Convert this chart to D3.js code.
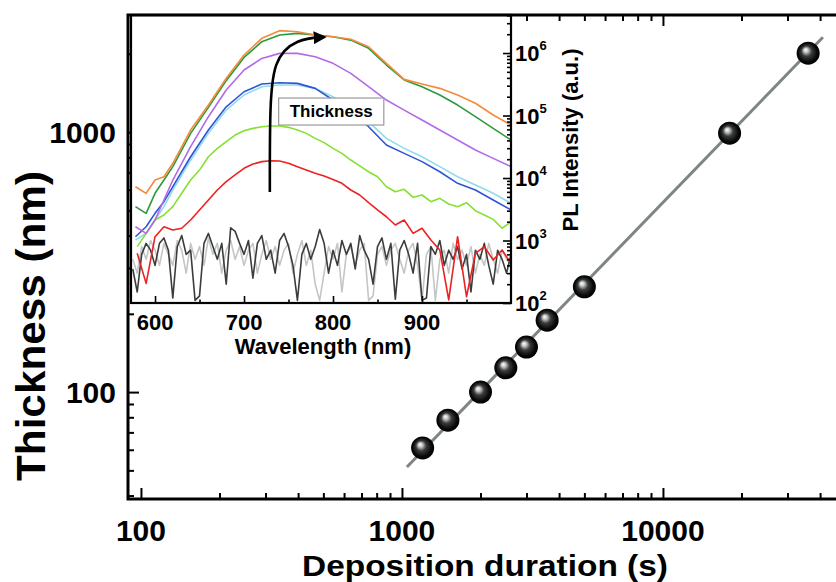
<!DOCTYPE html>
<html><head><meta charset="utf-8">
<script src="https://cdn.jsdelivr.net/npm/d3@7"></script>
<style>
html,body{margin:0;padding:0;background:#fff;}
svg{display:block;font-family:"Liberation Sans",Arial,sans-serif;font-weight:bold;}
</style></head><body>
<svg id="chart" width="836" height="582"></svg>
<script>
// ---------- main plot data ----------
const duration  = [1200, 1500, 2000, 2500, 3000, 3600, 5000, 18000, 36000];
const thickness = [61, 78, 100, 124, 149, 189, 254, 990, 2010];
const fitDuration  = [1045, 41000];
const fitThickness = [51.5, 2317];
const xTickLabels = [100, 1000, 10000];
const yTickLabels = [100, 1000];

// ---------- inset data (PL spectra) ----------
const wlCoarse = [578,590,600,610,620,640,660,680,700,720,740,760,780,800,820,840,860,880,900,920,940,960,980,1000];
const plOrange = [7260,5690,9290,10500,17200,58600,147000,394000,930000,1720000,2280000,2190000,1940000,1820000,1660000,1260000,684000,379000,319000,272000,213000,157000,102000,70500];
const plDarkGreen = [3480,2720,5690,9290,15200,51800,135000,361000,850000,1520000,1940000,2060000,1940000,1820000,1610000,1190000,643000,370000,289000,213000,147000,95800,62300,40600];
const plViolet = [1660,1300,2130,4450,9290,31700,95800,256000,535000,820000,988000,988000,870000,684000,473000,289000,177000,122000,84700,58600,40600,28100,20600,15200];
const plBlue = [1150,1660,2720,4180,7260,21900,58600,138000,240000,319000,335000,327000,272000,177000,115000,66200,33700,24800,18300,12600,8220,6430,4450,3080];
const plCyan = [1020,1300,2130,3480,6430,19400,51800,122000,213000,289000,308000,308000,272000,200000,130000,79700,43100,29800,21900,15200,10500,7730,5690,3940];

const wlFine = [580,590,600,610,620,630,640,650,660,670,680,690,700,710,720,730,740,750,760,770,780,790,800,810,820,830,840,850,860,870,880,890,900,910,920,930,940,950,960,970,980,990,1000];
const plLightGreen = [797,1300,2130,2560,3480,5690,9290,13400,21900,29800,38100,48700,57200,62300,66200,67900,67900,64700,58600,51800,43100,36800,29800,24800,19400,15600,12600,10500,7260,6040,6590,4910,5350,4180,4730,3840,3480,4030,3000,2560,2180,1570,2000];
const plRed = [623,206,1150,1660,1470,1570,2130,3080,4450,6430,8740,11200,14300,16700,18300,18900,18700,17200,15200,13400,11900,10800,9500,8220,6430,5350,4030,3080,2400,1770,2130,1300,1570,1020,705,112,1150,126,623,797,487,705,431];

const wlNoise = [575,580,585,590,595,600,605,610,615,620,625,630,635,640,645,650,655,660,665,670,675,680,685,690,695,700,705,710,715,720,725,730,735,740,745,750,755,760,765,770,775,780,785,790,795,800,805,810,815,820,825,830,835,840,845,850,855,860,865,870,875,880,885,890,895,900,905,910,915,920,925,930,935,940,945,950,955,960,965,970,975,980,985,990,995,1000];
const plNoiseDark = [350,150,600,900,700,400,900,1100,700,120,800,1200,600,700,110,130,900,1300,800,500,900,200,1600,1400,900,600,1000,250,900,1200,500,700,300,1000,1300,800,400,110,600,900,500,800,1500,900,300,700,400,1000,600,900,350,1200,700,500,200,800,1100,500,900,115,700,1000,600,300,900,110,120,800,600,1000,400,700,500,800,350,600,150,700,500,900,400,200,700,500,300,600];
const plNoiseLight = [500,300,800,500,1000,700,400,900,600,400,1000,700,300,900,500,800,400,1100,600,900,300,700,1000,500,800,400,700,900,300,600,1000,500,800,400,700,900,300,600,1000,400,700,200,110,300,800,500,900,150,600,800,400,700,900,110,130,600,800,400,700,900,500,300,700,900,400,110,600,800,110,500,700,300,900,500,700,400,800,300,600,400,900,500,300,700,500,400];

const wlTicks = [600, 700, 800, 900];
const plTicks = [1e2, 1e3, 1e4, 1e5, 1e6];
const arrowWl = [729, 729, 732, 760, 790];
const arrowPL = [6000, 1e5, 8e5, 1.7e6, 1.8e6];
const boxLabel = {text: "Thickness", wl: 798, pl: 1.18e5};

// ---------- setup ----------
const svg = d3.select('#chart');
const P = {l:128, t:15, b:499, r:836};
const x = d3.scaleLog().domain([89.2, 46030]).range([P.l, P.r]);
const y = d3.scaleLog().domain([38.8, 2820]).range([P.b, P.t]);

const defs = svg.append('defs');
const grad = defs.append('radialGradient').attr('id','ball').attr('cx','50%').attr('cy','50%').attr('r','50%').attr('fx','38%').attr('fy','34%');
[[0,'#ffffff'],[0.18,'#c8ccca'],[0.45,'#3a3c3b'],[0.8,'#0a0a0a'],[1,'#000']].forEach(s=>grad.append('stop').attr('offset',s[0]).attr('stop-color',s[1]));
defs.append('clipPath').attr('id','mainClip').append('rect').attr('x',P.l).attr('y',P.t).attr('width',P.r-P.l+20).attr('height',P.b-P.t);

// fit line
const main = svg.append('g').attr('clip-path','url(#mainClip)');
main.append('path')
  .datum(fitDuration.map((d,i)=>[d, fitThickness[i]]))
  .attr('d', d3.line().x(d=>x(d[0])).y(d=>y(d[1])))
  .attr('stroke','#7d8683').attr('stroke-width',3).attr('fill','none');
main.selectAll('circle.pt').data(duration.map((d,i)=>[d, thickness[i]])).join('circle')
  .attr('class','pt').attr('cx',d=>x(d[0])).attr('cy',d=>y(d[1])).attr('r',11.5)
  .attr('fill','url(#ball)');

// main axes ticks
const isMajor = v => Math.abs(Math.log10(v) - Math.round(Math.log10(v))) < 1e-6;
const xT = x.ticks().filter(v => v >= 100 && x(v) < P.r);
const yT = y.ticks().filter(v => v >= 40);
function tickAxis(gen, vals, size, tr){
  const g = svg.append('g').attr('transform', tr)
    .call(gen.tickValues(vals).tickSize(size).tickSizeOuter(0).tickFormat(''));
  g.select('.domain').remove();
  g.selectAll('line').attr('stroke','#000').attr('stroke-width',2);
  return g;
}
tickAxis(d3.axisBottom(x), xT.filter(v=>!isMajor(v)), -6, `translate(0,${P.b})`);
tickAxis(d3.axisBottom(x), xT.filter(isMajor), -11, `translate(0,${P.b})`);
tickAxis(d3.axisTop(x), xT.filter(v=>!isMajor(v)), -6, `translate(0,${P.t})`);
tickAxis(d3.axisTop(x), xT.filter(isMajor), -11, `translate(0,${P.t})`);
tickAxis(d3.axisLeft(y), yT.filter(v=>!isMajor(v)), -6, `translate(${P.l},0)`);
tickAxis(d3.axisLeft(y), yT.filter(isMajor), -11, `translate(${P.l},0)`);

// ---------- inset ----------
const I = {l:131, r:511, t:15, b:303};
const ix = d3.scaleLinear().domain([573, 1000]).range([I.l, I.r]);
const iy = d3.scaleLog().domain([100, 4.06e6]).range([I.b, I.t]);
svg.append('rect').attr('x',I.l).attr('y',I.t).attr('width',I.r-I.l).attr('height',I.b-I.t).attr('fill','#fff');
defs.append('clipPath').attr('id','insetClip').append('rect').attr('x',I.l).attr('y',I.t).attr('width',I.r-I.l).attr('height',I.b-I.t);
const ig = svg.append('g').attr('clip-path','url(#insetClip)');
const sLine = d3.line().x(d=>ix(d[0])).y(d=>iy(d[1]));
const series = [
  [wlNoise, plNoiseLight, '#c4c6c5', 1.6],
  [wlNoise, plNoiseDark, '#3b3d3c', 1.6],
  [wlCoarse, plCyan, '#8fdcec', 1.6],
  [wlCoarse, plBlue, '#2f55d4', 1.6],
  [wlFine, plLightGreen, '#86e032', 1.6],
  [wlFine, plRed, '#ec2222', 1.6],
  [wlCoarse, plViolet, '#b469e6', 1.6],
  [wlCoarse, plDarkGreen, '#2c9a3c', 1.6],
  [wlCoarse, plOrange, '#f58a3c', 1.6]
];
series.forEach(([wl, vals, col, w]) => {
  ig.append('path').datum(wl.map((d,i)=>[d, vals[i]]))
    .attr('d', sLine).attr('fill','none').attr('stroke',col).attr('stroke-width',w).attr('stroke-linejoin','round');
});

// arrow + label
defs.append('marker').attr('id','ah').attr('viewBox','0 0 10 10').attr('refX',8).attr('refY',5)
  .attr('markerWidth',5).attr('markerHeight',5).attr('orient','auto-start-reverse')
  .append('path').attr('d','M0,0 L10,5 L0,10 z').attr('fill','#000');
ig.append('path').datum(arrowWl.map((d,i)=>[d, arrowPL[i]]))
  .attr('d', d3.line().x(d=>ix(d[0])).y(d=>iy(d[1])).curve(d3.curveBasis))
  .attr('fill','none').attr('stroke','#000').attr('stroke-width',2.6).attr('marker-end','url(#ah)');
const bt = svg.append('text').attr('x', ix(boxLabel.wl)).attr('y', iy(boxLabel.pl)+6)
  .attr('text-anchor','middle').attr('font-size',17).text(boxLabel.text);
const bb = bt.node().getBBox();
svg.insert('rect', () => bt.node()).attr('x', bb.x-11).attr('y', bb.y-4).attr('width', bb.width+22).attr('height', bb.height+8)
  .attr('fill','#fff').attr('stroke','#9a9a9a').attr('stroke-width',1.2);

// inset ticks
const wlAll = [600,650,700,750,800,850,900,950];
function insetTicks(gen, vals, size, tr){
  const g = svg.append('g').attr('transform', tr)
    .call(gen.tickValues(vals).tickSize(size).tickSizeOuter(0).tickFormat(''));
  g.select('.domain').remove();
  g.selectAll('line').attr('stroke','#000').attr('stroke-width',1.6);
}
insetTicks(d3.axisBottom(ix), wlAll.filter(v=>v%100!==0), -3.5, `translate(0,${I.b})`);
insetTicks(d3.axisBottom(ix), wlAll.filter(v=>v%100===0), -7, `translate(0,${I.b})`);
const iyAll = iy.ticks().filter(v => v >= 100);
insetTicks(d3.axisRight(iy), iyAll.filter(v=>!isMajor(v)), -4, `translate(${I.r},0)`);
insetTicks(d3.axisRight(iy), iyAll.filter(isMajor), -8, `translate(${I.r},0)`);
svg.append('rect').attr('x',I.l).attr('y',I.t).attr('width',I.r-I.l).attr('height',I.b-I.t)
  .attr('fill','none').attr('stroke','#000').attr('stroke-width',2.2);

svg.selectAll('text.iwl').data(wlTicks).join('text').attr('class','iwl')
  .attr('x', d=>ix(d)).attr('y', I.b+27).attr('text-anchor','middle').attr('font-size',22).text(d=>d);
svg.append('text').attr('x', (ix(700)+ix(900))/2 - 10).attr('y', I.b+51).attr('text-anchor','middle').attr('font-size',22).text('Wavelength (nm)');
const plLab = svg.selectAll('text.ipl').data(plTicks).join('text').attr('class','ipl')
  .attr('x', I.r+4).attr('y', d=>iy(d)+8).attr('font-size',22);
plLab.append('tspan').text('10');
plLab.append('tspan').attr('dy',-11).attr('font-size',13).text(d=>Math.round(Math.log10(d)));
svg.append('text').attr('transform',`translate(578,140) rotate(-90)`).attr('text-anchor','middle').attr('font-size',22).text('PL Intensity (a.u.)');

// main frame (drawn last)
svg.append('path').attr('d',`M${P.r+10},${P.t} H${P.l} V${P.b} H${P.r+10}`)
  .attr('fill','none').attr('stroke','#000').attr('stroke-width',3);

// main labels
svg.selectAll('text.xl').data(xTickLabels).join('text').attr('class','xl')
  .attr('x', d=>x(d)).attr('y', 541).attr('text-anchor','middle').attr('font-size',30).text(d=>d);
svg.selectAll('text.yl').data(yTickLabels).join('text').attr('class','yl')
  .attr('x', 116).attr('y', d=>y(d)+11).attr('text-anchor','end').attr('font-size',30).text(d=>d);
svg.append('text').attr('x',485).attr('y',576).attr('text-anchor','middle').attr('font-size',30)
  .attr('textLength',366).attr('lengthAdjust','spacingAndGlyphs').text('Deposition duration (s)');
svg.append('text').attr('transform','translate(45,326) rotate(-90)').attr('text-anchor','middle').attr('font-size',40)
  .attr('textLength',310).attr('lengthAdjust','spacingAndGlyphs').text('Thickness (nm)');
</script>
</body></html>
